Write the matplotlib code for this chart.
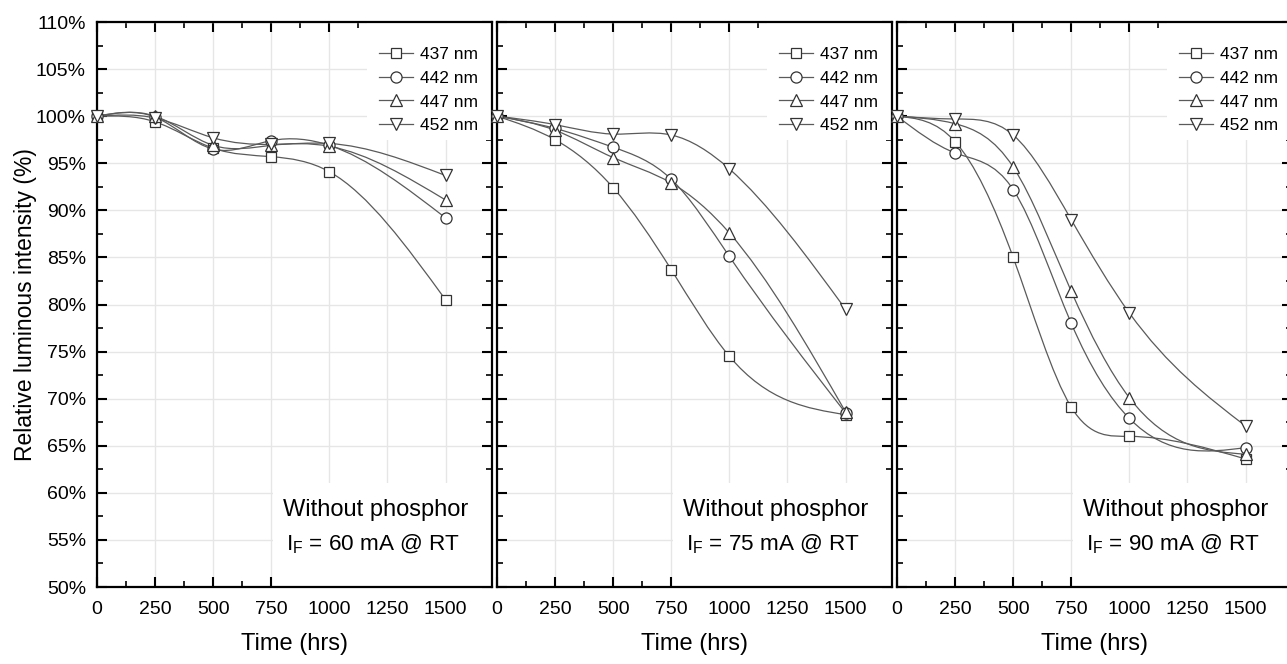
"""Relative luminous intensity of LEDs without phosphor at three drive currents."""

import matplotlib

matplotlib.use("Agg")

import matplotlib.pyplot as plt
import numpy as np
from matplotlib.lines import Line2D
from matplotlib.patches import PathPatch, Rectangle
from matplotlib.path import Path
from matplotlib.ticker import MultipleLocator

plt.rcParams["font.family"] = ["Liberation Sans", "DejaVu Sans"]
plt.rcParams["mathtext.default"] = "regular"

time_hrs = [0, 250, 500, 750, 1000, 1500]
x_tick_values = [0, 250, 500, 750, 1000, 1250, 1500]
wavelength_labels = ["437 nm", "442 nm", "447 nm", "452 nm"]
current_ma = [60, 75, 90]

# relative luminous intensity (%)
i60_437 = [100.0, 99.4, 96.6, 95.7, 94.1, 80.5]
i60_442 = [100.0, 99.9, 96.5, 97.4, 96.9, 89.2]
i60_447 = [100.0, 100.0, 96.9, 96.9, 96.8, 91.1]
i60_452 = [100.0, 99.8, 97.7, 97.0, 97.1, 93.7]

i75_437 = [100.0, 97.5, 92.4, 83.7, 74.5, 68.3]
i75_442 = [100.0, 98.7, 96.7, 93.3, 85.1, 68.5]
i75_447 = [100.0, 98.5, 95.6, 92.9, 87.6, 68.6]
i75_452 = [100.0, 99.1, 98.1, 98.0, 94.4, 79.5]

i90_437 = [100.0, 97.3, 85.0, 69.1, 66.0, 63.6]
i90_442 = [100.0, 96.1, 92.2, 78.0, 67.9, 64.8]
i90_447 = [100.0, 99.2, 94.6, 81.4, 70.1, 64.1]
i90_452 = [100.0, 99.7, 98.0, 89.0, 79.1, 67.1]

panels = [
    [i60_437, i60_442, i60_447, i60_452],
    [i75_437, i75_442, i75_447, i75_452],
    [i90_437, i90_442, i90_447, i90_452],
]
markers = ["s", "o", "^", "v"]
marker_sizes = [7.5, 8, 8.5, 8.5]

LINE_COLOR = "#5a5a5a"
EDGE_COLOR = "#333333"


def _spline_path(x, y):
    # natural cubic spline through the points, expressed as Bezier segments
    x = np.asarray(x, dtype=float)
    y = np.asarray(y, dtype=float)
    n = len(x)
    h = np.diff(x)
    d = np.diff(y) / h
    a = np.zeros((n, n))
    b = np.zeros(n)
    a[0, 0] = a[-1, -1] = 1.0
    for i in range(1, n - 1):
        a[i, i - 1] = h[i - 1]
        a[i, i] = 2.0 * (h[i - 1] + h[i])
        a[i, i + 1] = h[i]
        b[i] = 6.0 * (d[i] - d[i - 1])
    m2 = np.linalg.solve(a, b)
    slope = np.empty(n)
    slope[:-1] = d - h * (2.0 * m2[:-1] + m2[1:]) / 6.0
    slope[-1] = d[-1] + h[-1] * (m2[-2] + 2.0 * m2[-1]) / 6.0
    verts = [(x[0], y[0])]
    codes = [Path.MOVETO]
    for i in range(n - 1):
        verts += [
            (x[i] + h[i] / 3.0, y[i] + slope[i] * h[i] / 3.0),
            (x[i + 1] - h[i] / 3.0, y[i + 1] - slope[i + 1] * h[i] / 3.0),
            (x[i + 1], y[i + 1]),
        ]
        codes += [Path.CURVE4] * 3
    return Path(verts, codes)


W, H = 1287, 664
fig = plt.figure(figsize=(W / 100, H / 100), dpi=100)
ax_left = [97, 497, 897]
ax_w, ax_top, ax_bottom = 395, 22, 587

for k, (series, current) in enumerate(zip(panels, current_ma)):
    ax = fig.add_axes([ax_left[k] / W, (H - ax_bottom) / H, ax_w / W, (ax_bottom - ax_top) / H])
    ax.set_xlim(0, 1700)
    ax.set_ylim(50, 110)
    ax.set_xticks(x_tick_values)
    ax.set_xticklabels([str(t) for t in x_tick_values])
    ax.xaxis.set_minor_locator(MultipleLocator(125))
    ax.yaxis.set_major_locator(MultipleLocator(5))
    ax.yaxis.set_minor_locator(MultipleLocator(2.5))
    ax.set_axisbelow(True)
    ax.grid(True, which="major", color="#e6e6e6", lw=1.0)
    ax.tick_params(which="both", direction="in", top=True, right=True, labelsize=14)
    ax.tick_params(axis="x", which="major", pad=10)
    ax.tick_params(axis="y", which="major", pad=8)
    ax.tick_params(which="major", length=7, width=1.5)
    ax.tick_params(which="minor", length=4, width=1.2)
    for spine in ax.spines.values():
        spine.set_linewidth(1.6)
    if k == 0:
        ax.yaxis.set_major_formatter(lambda v, pos: f"{v:.0f}%")
        ax.set_ylabel("Relative luminous intensity (%)", fontsize=16.5, labelpad=-1)
    else:
        ax.tick_params(labelleft=False)
    ax.set_xlabel("Time (hrs)", fontsize=17, labelpad=11)

    # white cover boxes behind the legend and the condition note
    ax.add_patch(Rectangle((0.684, 0.791), 0.316, 0.209, transform=ax.transAxes,
                           facecolor="white", edgecolor="none", zorder=1))
    ax.add_patch(Rectangle((0.445, 0.0), 0.555, 0.184, transform=ax.transAxes,
                           facecolor="white", edgecolor="none", zorder=1))

    for values, marker, ms in zip(series, markers, marker_sizes):
        ax.add_patch(PathPatch(_spline_path(time_hrs, values), fill=False,
                               edgecolor=LINE_COLOR, lw=0.9, zorder=2))
        ax.plot(time_hrs, values, ls="none", marker=marker, ms=ms, mfc="white",
                mec=EDGE_COLOR, mew=0.9, zorder=3, clip_on=False)

    handles = [
        Line2D([], [], color=LINE_COLOR, lw=0.9, marker=m, ms=ms, mfc="white", mec=EDGE_COLOR, mew=0.9)
        for m, ms in zip(markers, marker_sizes)
    ]
    ax.legend(handles, wavelength_labels, loc="upper right", bbox_to_anchor=(1.012, 0.99),
              frameon=False, fontsize=12.5, handlelength=2.0, handletextpad=0.35,
              labelspacing=0.5, borderaxespad=0.6, borderpad=0.5)

    ax.text(0.47, 0.136, "Without phosphor", transform=ax.transAxes, fontsize=17,
            ha="left", va="center", zorder=4)
    ax.text(0.478, 0.075, f"I$_F$ = {current} mA @ RT", transform=ax.transAxes,
            fontsize=16.2, ha="left", va="center", zorder=4)

fig.savefig("out.png", dpi=100)
